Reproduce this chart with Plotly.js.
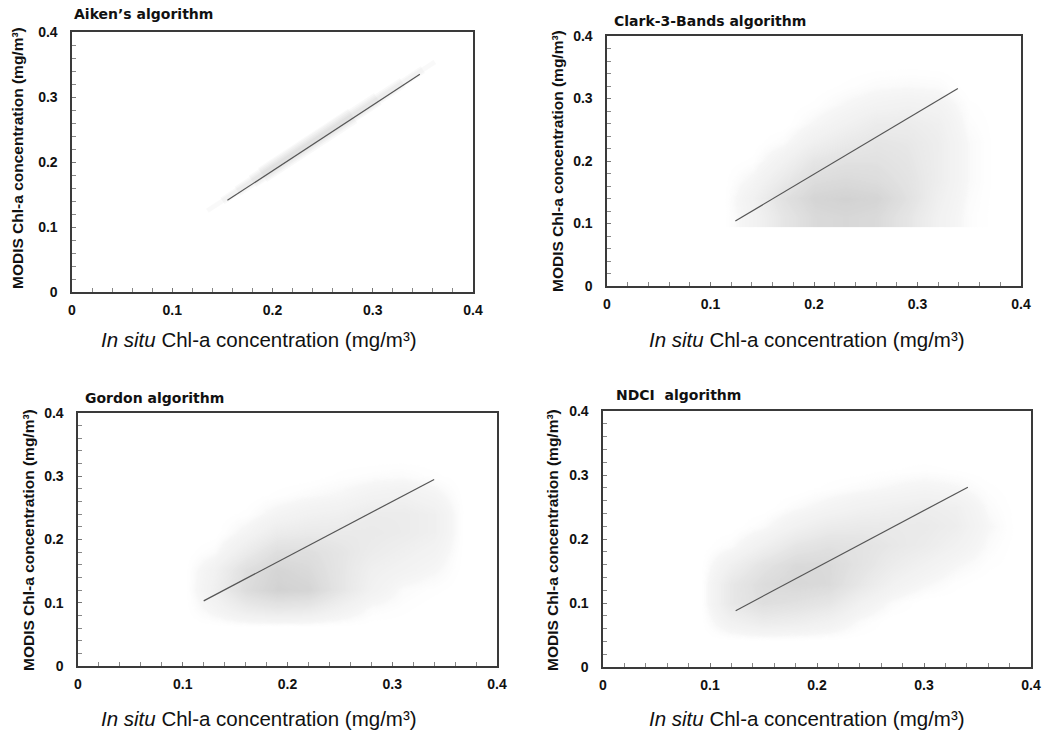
<!DOCTYPE html>
<html>
<head>
<meta charset="utf-8">
<script src="https://cdn.plot.ly/plotly-3.0.1.min.js"></script>
<style>html,body{margin:0;padding:0;background:#fff;}#chart{width:1042px;height:736px;}</style>
</head>
<body>
<div id="chart"></div>
<script>
// ---- data ----
const panelTitles = ["Aiken\u2019s algorithm", "Clark-3-Bands algorithm", "Gordon algorithm", "NDCI  algorithm"];
const xTitle = "<i>In situ</i> Chl-a concentration (mg/m\u00b3)";
const yTitle = "MODIS Chl-a concentration (mg/m\u00b3)";

// regression lines
const aikenLineX = [0.155, 0.347];
const aikenLineY = [0.141, 0.335];
const clarkLineX = [0.124, 0.339];
const clarkLineY = [0.104, 0.316];
const gordonLineX = [0.120, 0.340];
const gordonLineY = [0.103, 0.295];
const ndciLineX = [0.124, 0.341];
const ndciLineY = [0.088, 0.281];

// Aiken: narrow soft shadow along the fit (layered segments, longest to shortest)
const aikenShade1X = [0.135, 0.362];
const aikenShade1Y = [0.125, 0.354];
const aikenShade2X = [0.150, 0.350];
const aikenShade2Y = [0.140, 0.342];
const aikenShade3X = [0.165, 0.330];
const aikenShade3Y = [0.155, 0.322];
const aikenShade4X = [0.180, 0.305];
const aikenShade4Y = [0.170, 0.297];
const aikenShade5X = [0.190, 0.280];
const aikenShade5Y = [0.180, 0.271];

// point-density shading (relative grey intensity, 0 = white)
const clarkDensX = [0.11, 0.14, 0.17, 0.20, 0.23, 0.26, 0.29, 0.32, 0.35, 0.38];
const clarkDensY = [0.11, 0.14, 0.17, 0.20, 0.23, 0.26, 0.29, 0.32, 0.35, 0.38];
const clarkDensZ = [
  [0.00, 0.25, 0.60, 0.85, 0.90, 0.85, 0.60, 0.30, 0.08, 0.00],
  [0.00, 0.30, 0.70, 0.95, 1.00, 0.95, 0.70, 0.35, 0.10, 0.00],
  [0.00, 0.18, 0.50, 0.80, 0.85, 0.80, 0.65, 0.40, 0.12, 0.00],
  [0.00, 0.05, 0.30, 0.60, 0.70, 0.70, 0.60, 0.40, 0.12, 0.00],
  [0.00, 0.00, 0.10, 0.35, 0.50, 0.60, 0.55, 0.40, 0.12, 0.00],
  [0.00, 0.00, 0.00, 0.15, 0.30, 0.45, 0.45, 0.35, 0.08, 0.00],
  [0.00, 0.00, 0.00, 0.05, 0.15, 0.25, 0.30, 0.25, 0.05, 0.00],
  [0.00, 0.00, 0.00, 0.00, 0.05, 0.10, 0.12, 0.10, 0.00, 0.00],
  [0.00, 0.00, 0.00, 0.00, 0.00, 0.02, 0.03, 0.02, 0.00, 0.00],
  [0.00, 0.00, 0.00, 0.00, 0.00, 0.00, 0.00, 0.00, 0.00, 0.00]
];

const gordonDensX = [0.10, 0.13, 0.16, 0.19, 0.22, 0.25, 0.28, 0.31, 0.34, 0.37];
const gordonDensY = [0.06, 0.09, 0.12, 0.15, 0.18, 0.21, 0.24, 0.27, 0.30, 0.33];
const gordonDensZ = [
  [0.00, 0.00, 0.00, 0.00, 0.00, 0.00, 0.00, 0.00, 0.00, 0.00],
  [0.00, 0.20, 0.45, 0.55, 0.50, 0.30, 0.10, 0.05, 0.00, 0.00],
  [0.00, 0.35, 0.80, 1.00, 0.95, 0.60, 0.30, 0.10, 0.05, 0.00],
  [0.00, 0.30, 0.75, 0.95, 0.85, 0.60, 0.35, 0.25, 0.15, 0.00],
  [0.00, 0.10, 0.45, 0.75, 0.75, 0.60, 0.45, 0.35, 0.25, 0.00],
  [0.00, 0.00, 0.20, 0.45, 0.50, 0.50, 0.50, 0.45, 0.35, 0.00],
  [0.00, 0.00, 0.05, 0.20, 0.30, 0.35, 0.45, 0.45, 0.35, 0.00],
  [0.00, 0.00, 0.00, 0.05, 0.10, 0.15, 0.25, 0.30, 0.20, 0.00],
  [0.00, 0.00, 0.00, 0.00, 0.00, 0.05, 0.08, 0.10, 0.05, 0.00],
  [0.00, 0.00, 0.00, 0.00, 0.00, 0.00, 0.00, 0.00, 0.00, 0.00]
];

const ndciDensX = [0.09, 0.12, 0.15, 0.18, 0.21, 0.24, 0.27, 0.30, 0.33, 0.36, 0.39];
const ndciDensY = [0.04, 0.07, 0.10, 0.13, 0.16, 0.19, 0.22, 0.25, 0.28, 0.31, 0.34];
const ndciDensZ = [
  [0.00, 0.00, 0.00, 0.00, 0.00, 0.00, 0.00, 0.00, 0.00, 0.00, 0.00],
  [0.00, 0.30, 0.45, 0.40, 0.30, 0.10, 0.00, 0.00, 0.00, 0.00, 0.00],
  [0.00, 0.55, 0.75, 0.70, 0.60, 0.30, 0.10, 0.00, 0.00, 0.00, 0.00],
  [0.00, 0.55, 0.80, 0.90, 0.85, 0.55, 0.30, 0.15, 0.05, 0.00, 0.00],
  [0.00, 0.35, 0.65, 0.85, 0.85, 0.65, 0.45, 0.30, 0.15, 0.05, 0.00],
  [0.00, 0.10, 0.35, 0.60, 0.70, 0.65, 0.55, 0.45, 0.30, 0.10, 0.00],
  [0.00, 0.00, 0.10, 0.30, 0.45, 0.50, 0.50, 0.50, 0.40, 0.15, 0.00],
  [0.00, 0.00, 0.00, 0.10, 0.20, 0.30, 0.35, 0.40, 0.35, 0.10, 0.00],
  [0.00, 0.00, 0.00, 0.00, 0.05, 0.10, 0.15, 0.20, 0.15, 0.05, 0.00],
  [0.00, 0.00, 0.00, 0.00, 0.00, 0.00, 0.03, 0.05, 0.03, 0.00, 0.00],
  [0.00, 0.00, 0.00, 0.00, 0.00, 0.00, 0.00, 0.00, 0.00, 0.00, 0.00]
];

const majorTickVals = [0, 0.1, 0.2, 0.3, 0.4];
const majorTickText = ["0", "0.1", "0.2", "0.3", "0.4"];

// ---- styling / layout ----
const W = 1042, H = 736;
const px = v => v / W;
const py = v => 1 - v / H;

// plot-area pixel boxes [left, right, top, bottom]
const boxes = [
  [72, 473, 32, 292],
  [607, 1021, 36, 286],
  [78, 497, 413, 666],
  [603, 1031, 411, 667]
];

const densColors = [[0, 'rgba(255,255,255,0)'], [0.15, 'rgba(242,242,242,0.7)'], [1, 'rgb(210,210,210)']];

function ax(i, p) { return p + (i === 1 ? '' : i); }
function dens(x, y, z, i) {
  return {type: 'heatmap', x: x, y: y, z: z, zmin: 0, zmax: 1, zsmooth: 'best',
    colorscale: densColors, showscale: false, hoverinfo: 'skip',
    xaxis: ax(i, 'x'), yaxis: ax(i, 'y')};
}
function line(x, y, i, color, width) {
  return {type: 'scatter', mode: 'lines', x: x, y: y,
    line: {color: color, width: width}, hoverinfo: 'skip', showlegend: false,
    xaxis: ax(i, 'x'), yaxis: ax(i, 'y')};
}

const shadeCol = 'rgba(0,0,0,0.025)';
const data = [
  line(aikenShade1X, aikenShade1Y, 1, shadeCol, 5),
  line(aikenShade2X, aikenShade2Y, 1, shadeCol, 8),
  line(aikenShade3X, aikenShade3Y, 1, shadeCol, 11),
  line(aikenShade4X, aikenShade4Y, 1, shadeCol, 14),
  line(aikenShade5X, aikenShade5Y, 1, shadeCol, 17),
  line(aikenLineX, aikenLineY, 1, '#555', 1.2),
  dens(clarkDensX, clarkDensY, clarkDensZ, 2),
  line(clarkLineX, clarkLineY, 2, '#555', 1.2),
  dens(gordonDensX, gordonDensY, gordonDensZ, 3),
  line(gordonLineX, gordonLineY, 3, '#555', 1.2),
  dens(ndciDensX, ndciDensY, ndciDensZ, 4),
  line(ndciLineX, ndciLineY, 4, '#555', 1.2)
];

const tickFont = {family: 'Liberation Sans, Arial, sans-serif', size: 14, color: '#111', weight: 'bold'};
function commonAxis() {
  return {range: [0, 0.4], tickvals: majorTickVals, ticktext: majorTickText,
    ticks: 'inside', ticklen: 4, tickcolor: '#777', tickwidth: 1,
    minor: {dtick: 0.02, ticks: 'inside', ticklen: 4, tickcolor: '#888', tickwidth: 1, showgrid: false},
    showgrid: false, zeroline: false, showline: true, mirror: true, linecolor: '#3a3a3a', linewidth: 1.6,
    tickfont: tickFont, fixedrange: true};
}
function xax(b, anchor) {
  return Object.assign(commonAxis(), {domain: [px(b[0]), px(b[1])], anchor: anchor, ticklabelstandoff: 5});
}
function yax(b, anchor) {
  return Object.assign(commonAxis(), {domain: [py(b[3]), py(b[2])], anchor: anchor, ticklabelstandoff: 10});
}

const titlePos = [[72, 14], [612, 21], [83, 398], [614, 395]];
const xTitlePos = [[259, 340], [807, 340], [259, 718], [807, 718]];
const yTitlePos = [[17, 158], [557, 161], [28, 540], [552, 540]];

const annotations = [];
for (let i = 0; i < 4; i++) {
  annotations.push({text: panelTitles[i], xref: 'paper', yref: 'paper',
    x: px(titlePos[i][0]), y: py(titlePos[i][1]), xanchor: 'left', yanchor: 'middle', showarrow: false,
    font: {family: 'DejaVu Sans, sans-serif', size: 14, color: '#111', weight: 'bold'}});
  annotations.push({text: xTitle, xref: 'paper', yref: 'paper',
    x: px(xTitlePos[i][0]), y: py(xTitlePos[i][1]), xanchor: 'center', yanchor: 'middle', showarrow: false,
    font: {family: 'Liberation Sans, Arial, sans-serif', size: 20.5, color: '#111'}});
  annotations.push({text: yTitle, xref: 'paper', yref: 'paper', textangle: -90,
    x: px(yTitlePos[i][0]), y: py(yTitlePos[i][1]), xanchor: 'center', yanchor: 'middle', showarrow: false,
    font: {family: 'Liberation Sans, Arial, sans-serif', size: 15.5, color: '#111', weight: 'bold'}});
}

const layout = {
  width: W, height: H, margin: {l: 0, r: 0, t: 0, b: 0},
  paper_bgcolor: '#fff', plot_bgcolor: '#fff', showlegend: false,
  xaxis: xax(boxes[0], 'y'), yaxis: yax(boxes[0], 'x'),
  xaxis2: xax(boxes[1], 'y2'), yaxis2: yax(boxes[1], 'x2'),
  xaxis3: xax(boxes[2], 'y3'), yaxis3: yax(boxes[2], 'x3'),
  xaxis4: xax(boxes[3], 'y4'), yaxis4: yax(boxes[3], 'x4'),
  annotations: annotations
};

Plotly.newPlot('chart', data, layout, {staticPlot: true, displayModeBar: false});
</script>
</body>
</html>
